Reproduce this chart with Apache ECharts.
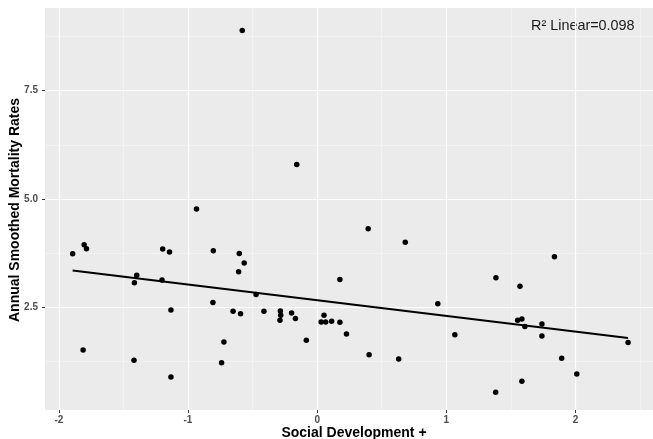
<!DOCTYPE html>
<html>
<head>
<meta charset="utf-8">
<script src="https://cdn.jsdelivr.net/npm/echarts@6/dist/echarts.min.js"></script>
<style>
html,body{margin:0;padding:0;background:#fff;}
#chart{width:653px;height:439px;}
</style>
</head>
<body>
<div id="chart"></div>
<script>
// Data
const socialDev = [
  -1.893, -1.804, -1.786, -1.812, -1.397, -1.415, -1.418, -1.196, -1.143, -1.201,
  -1.132, -1.132, -0.934, -0.804, -0.807, -0.603, -0.565, -0.608, -0.473, -0.651,
  -0.593, -0.722, -0.740, -0.412, -0.285, -0.282, -0.288, -0.198, -0.168, -0.084,
  0.053, 0.031, 0.066, 0.112, 0.176, 0.176, 0.227, 0.395, 0.402, 0.682,
  0.631, 0.934, 1.066, 1.384, 1.382, 1.570, 1.552, 1.585, 1.608, 1.585,
  1.740, 1.740, 1.837, 1.893, 2.010, 2.407, -0.580, -0.158
];
const mortality = [
  3.736, 3.944, 3.852, 1.514, 3.238, 3.067, 1.276, 3.845, 3.776, 3.129,
  2.437, 0.891, 4.768, 3.806, 2.614, 3.745, 3.522, 3.322, 2.799, 2.407,
  2.352, 1.699, 1.221, 2.407, 2.414, 2.315, 2.199, 2.368, 2.245, 1.738,
  2.315, 2.160, 2.160, 2.176, 2.153, 3.145, 1.883, 4.313, 1.406, 4.000,
  1.306, 2.583, 1.868, 3.183, 0.537, 2.984, 2.199, 2.229, 2.060, 0.791,
  2.114, 1.837, 3.667, 1.322, 0.960, 1.691, 8.892, 5.800
];
const fitX = [-1.893, 2.407];
const fitY = [3.353, 1.790];
const xMajorTicks = [-2, -1, 0, 1, 2];
const xMinorTicks = [-1.5, -0.5, 0.5, 1.5, 2.5];
const yMajorTicks = [2.5, 5.0, 7.5];
const yMinorTicks = [1.25, 3.75, 6.25, 8.75];
const rSquaredLabel = 'R\u00B2 Linear=0.098';
const xTitle = 'Social Development +';
const yTitle = 'Annual Smoothed Mortality Rates';

const points = socialDev.map((x, i) => [x, mortality[i]]);
const fitLine = fitX.map((x, i) => [x, fitY[i]]);

const FONT = '"Liberation Sans", Arial, Helvetica, sans-serif';
const xMin = -2.107, xMax = 2.6, yMin = 0.13, yMax = 9.41;

const chart = echarts.init(document.getElementById('chart'), null, {renderer: 'canvas'});

function majorAxis(dim, ticks, min, max) {
  return {
    type: 'value', min: min, max: max,
    position: dim === 'x' ? 'bottom' : 'left',
    axisLine: {show: false, onZero: false},
    axisTick: {show: true, length: 3, customValues: ticks, lineStyle: {color: '#333333', width: 1}},
    axisLabel: {
      show: true, customValues: ticks, color: '#4D4D4D', fontFamily: FONT, fontSize: 10, fontWeight: 'bold',
      margin: dim === 'x' ? 5 : 7,
      formatter: v => dim === 'y' ? Number(v).toFixed(1) : String(v)
    },
    splitLine: {show: true, lineStyle: {color: '#FFFFFF', width: 1.2}},
    z: 2
  };
}
function minorAxis(dim, ticks, min, max) {
  return {
    type: 'value', min: min, max: max,
    position: dim === 'x' ? 'bottom' : 'left',
    axisLine: {show: false, onZero: false},
    axisTick: {show: false, customValues: ticks},
    axisLabel: {show: false, customValues: ticks},
    splitLine: {show: true, lineStyle: {color: '#F7F7F7', width: 0.6}},
    z: 1
  };
}

chart.setOption({
  animation: false,
  backgroundColor: '#FFFFFF',
  grid: {left: 45, top: 8, width: 616.6, height: 402, show: true, backgroundColor: '#EBEBEB', borderWidth: 0},
  xAxis: [majorAxis('x', xMajorTicks, xMin, xMax), minorAxis('x', xMinorTicks, xMin, xMax)],
  yAxis: [majorAxis('y', yMajorTicks, yMin, yMax), minorAxis('y', yMinorTicks, yMin, yMax)],
  series: [
    {
      type: 'scatter', data: points, symbol: 'circle', symbolSize: 5.5,
      itemStyle: {color: '#000000', opacity: 1}, xAxisIndex: 0, yAxisIndex: 0, z: 3
    },
    {
      type: 'line', data: fitLine, symbol: 'none', showSymbol: false,
      lineStyle: {color: '#000000', width: 2}, xAxisIndex: 0, yAxisIndex: 0, z: 4
    }
  ],
  graphic: [
    {type: 'text', left: 531, top: 19, style: {text: rSquaredLabel, font: '14.4px ' + FONT, fill: '#1A1A1A'}},
    {type: 'text', x: 354, y: 433, style: {text: xTitle, font: 'bold 14px ' + FONT, fill: '#000000', align: 'center', verticalAlign: 'middle'}},
    {type: 'text', x: 15.5, y: 210, rotation: Math.PI / 2, style: {text: yTitle, font: 'bold 14px ' + FONT, fill: '#000000', align: 'center', verticalAlign: 'middle'}}
  ]
});
</script>
</body>
</html>
